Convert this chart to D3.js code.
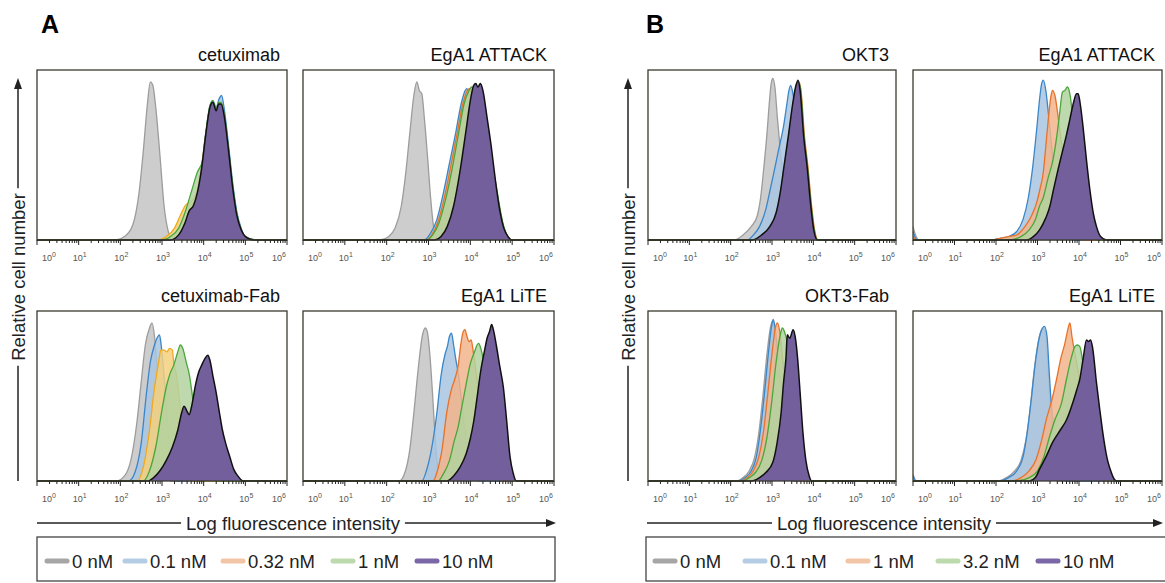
<!DOCTYPE html>
<html><head><meta charset="utf-8">
<script src="https://cdn.jsdelivr.net/npm/d3@7"></script>
<style>body{margin:0;background:#fff}svg{display:block}</style>
</head><body>
<svg id="c" width="1165" height="583"></svg>
<script>
// ---------- DATA (x = log10 fluorescence, y = % of max cell number) ----------
const decades = [0, 1, 2, 3, 4, 5, 6];
const panelTitles = ["cetuximab", "EgA1 ATTACK", "cetuximab-Fab", "EgA1 LiTE", "OKT3", "EgA1 ATTACK", "OKT3-Fab", "EgA1 LiTE"];
const legendA = ["0 nM", "0.1 nM", "0.32 nM", "1 nM", "10 nM"];
const legendB = ["0 nM", "0.1 nM", "1 nM", "3.2 nM", "10 nM"];

// A – cetuximab
const cetux_0   = [[1.9,0],[2.1,2],[2.3,9],[2.45,28],[2.55,52],[2.65,80],[2.72,93],[2.78,91],[2.85,78],[2.95,50],[3.05,20],[3.15,5],[3.25,0]];
const cetux_01  = [[3.2,0],[3.4,3],[3.55,10],[3.65,17],[3.75,21],[3.85,29],[3.95,43],[4.05,63],[4.15,79],[4.22,82],[4.3,78],[4.37,83],[4.43,85],[4.5,76],[4.6,55],[4.7,33],[4.8,16],[4.9,7],[5.0,2],[5.25,0]];
const cetux_032 = [[2.9,0],[3.1,2],[3.3,7],[3.45,15],[3.55,20],[3.65,22],[3.75,24],[3.85,30],[3.95,43],[4.05,62],[4.15,78],[4.22,81],[4.3,76],[4.36,80],[4.42,80],[4.5,72],[4.6,52],[4.7,30],[4.8,14],[4.9,6],[5.0,2],[5.2,0]];
const cetux_1   = [[3.0,0],[3.2,2],[3.4,7],[3.55,16],[3.7,28],[3.85,40],[3.98,47],[4.05,62],[4.15,79],[4.22,82],[4.3,77],[4.36,81],[4.42,81],[4.5,73],[4.6,53],[4.7,31],[4.8,15],[4.9,6],[5.0,2],[5.2,0]];
const cetux_10  = [[3.2,0],[3.4,3],[3.55,10],[3.65,17],[3.75,20],[3.85,28],[3.95,42],[4.05,62],[4.15,78],[4.22,81],[4.3,76],[4.36,80],[4.42,80],[4.5,72],[4.6,52],[4.7,30],[4.8,14],[4.9,6],[5.0,2],[5.2,0]];
// A – EgA1 ATTACK
const attA_0   = [[1.85,0],[2.05,2],[2.2,7],[2.35,20],[2.45,38],[2.55,62],[2.65,85],[2.72,93],[2.78,88],[2.84,86],[2.9,72],[2.98,48],[3.05,25],[3.12,8],[3.2,0]];
const attA_01  = [[2.9,0],[3.05,4],[3.2,12],[3.35,27],[3.5,45],[3.65,63],[3.78,80],[3.88,88],[3.92,89],[3.97,86],[4.05,82],[4.2,74],[4.4,55],[4.6,30],[4.8,7],[5.0,0]];
const attA_032 = [[2.93,0],[3.08,3],[3.23,11],[3.38,25],[3.53,43],[3.68,62],[3.82,80],[3.93,88],[3.98,89],[4.05,85],[4.2,76],[4.4,57],[4.6,32],[4.8,7],[5.0,0]];
const attA_1   = [[2.95,0],[3.1,3],[3.25,10],[3.4,23],[3.55,40],[3.7,60],[3.85,80],[3.97,88],[4.03,90],[4.1,86],[4.2,80],[4.4,60],[4.6,34],[4.8,8],[5.0,0]];
const attA_10  = [[3.15,0],[3.3,2],[3.45,8],[3.6,20],[3.75,40],[3.9,65],[4.0,82],[4.08,91],[4.13,92],[4.18,90],[4.24,92],[4.3,88],[4.4,72],[4.5,55],[4.6,35],[4.7,18],[4.8,7],[4.9,2],[5.0,0]];
// A – cetuximab-Fab
const cfab_0   = [[1.9,0],[2.1,3],[2.25,12],[2.4,35],[2.5,58],[2.6,80],[2.7,90],[2.76,93],[2.82,85],[2.9,60],[3.0,30],[3.1,10],[3.2,0]];
const cfab_01  = [[2.2,0],[2.35,5],[2.5,22],[2.62,50],[2.72,70],[2.82,80],[2.9,85],[2.94,86],[2.98,80],[3.05,62],[3.15,30],[3.25,10],[3.35,0]];
const cfab_032 = [[2.4,0],[2.55,8],[2.7,30],[2.82,55],[2.92,70],[2.97,77],[3.05,77],[3.12,76],[3.18,78],[3.25,77],[3.28,70],[3.35,62],[3.45,40],[3.55,15],[3.65,0]];
const cfab_1   = [[2.55,0],[2.7,6],[2.85,20],[3.0,42],[3.1,55],[3.19,63],[3.28,68],[3.38,76],[3.44,80],[3.5,78],[3.58,70],[3.66,62],[3.73,50],[3.8,38],[3.9,22],[4.0,10],[4.2,3],[4.4,0]];
const cfab_10  = [[2.66,0],[2.8,2],[2.95,6],[3.1,12],[3.25,20],[3.38,30],[3.47,40],[3.53,44],[3.6,41],[3.65,39],[3.72,45],[3.8,56],[3.88,64],[3.95,68],[4.03,72],[4.1,74],[4.15,71],[4.22,62],[4.3,52],[4.38,40],[4.45,30],[4.53,22],[4.63,14],[4.72,7],[4.82,3],[4.95,0]];
// A – EgA1 LiTE
const liteA_0   = [[2.3,0],[2.45,6],[2.55,18],[2.65,40],[2.75,65],[2.85,85],[2.92,90],[2.97,88],[3.03,75],[3.1,50],[3.16,25],[3.22,8],[3.3,0]];
const liteA_01  = [[2.84,0],[2.95,6],[3.05,16],[3.2,40],[3.3,62],[3.4,75],[3.45,79],[3.5,85],[3.55,87],[3.6,80],[3.65,72],[3.72,62],[3.8,45],[3.9,25],[4.0,10],[4.1,2],[4.2,0]];
const liteA_032 = [[3.11,0],[3.2,5],[3.32,18],[3.44,41],[3.55,54],[3.63,60],[3.71,68],[3.77,80],[3.82,87],[3.87,89],[3.92,85],[3.97,82],[4.02,83],[4.07,76],[4.15,62],[4.25,40],[4.4,15],[4.6,3],[4.8,0]];
const liteA_1   = [[3.23,0],[3.35,4],[3.5,12],[3.62,24],[3.71,32],[3.8,44],[3.9,57],[4.0,69],[4.1,76],[4.16,80],[4.2,81],[4.25,78],[4.32,70],[4.42,50],[4.55,28],[4.7,10],[4.85,2],[5.0,0]];
const liteA_10  = [[3.44,0],[3.6,3],[3.75,8],[3.9,16],[4.0,25],[4.08,35],[4.15,47],[4.25,65],[4.35,78],[4.4,84],[4.46,88],[4.51,92],[4.56,88],[4.62,80],[4.7,68],[4.79,55],[4.87,35],[4.95,14],[5.02,5],[5.1,0]];
// B – OKT3
const okt_0   = [[2.1,0],[2.3,3],[2.5,8],[2.64,14],[2.72,24],[2.8,42],[2.88,63],[2.94,82],[2.98,92],[3.02,95],[3.07,90],[3.13,72],[3.2,53],[3.3,30],[3.4,12],[3.5,3],[3.6,0]];
const okt_01  = [[2.4,0],[2.55,3],[2.7,8],[2.85,18],[2.96,30],[3.04,39],[3.15,52],[3.28,67],[3.36,80],[3.41,88],[3.45,91],[3.5,87],[3.57,75],[3.65,58],[3.75,35],[3.85,15],[3.95,4],[4.05,0]];
const okt_1   = [[2.54,0],[2.77,3],[2.97,8],[3.12,16],[3.22,28],[3.32,45],[3.42,62],[3.52,80],[3.6,91],[3.65,93],[3.7,88],[3.79,60],[3.87,43],[3.95,22],[4.03,6],[4.12,0]];
const okt_32  = [[2.53,0],[2.76,3],[2.96,8],[3.11,16],[3.21,28],[3.31,45],[3.41,62],[3.51,80],[3.59,91],[3.64,93],[3.69,89],[3.78,60],[3.86,43],[3.94,22],[4.02,6],[4.11,0]];
const okt_10  = [[2.52,0],[2.75,3],[2.95,8],[3.1,16],[3.2,28],[3.3,45],[3.4,62],[3.5,80],[3.58,91],[3.63,94],[3.68,88],[3.77,60],[3.85,43],[3.93,22],[4.01,6],[4.1,0]];
// B – EgA1 ATTACK
const attB_0   = [[0,8],[0.06,3],[0.15,0],[2.0,0]];
const attB_01  = [[0,5],[0.1,0],[1.9,0],[2.1,1],[2.3,2],[2.5,5],[2.65,12],[2.78,25],[2.88,42],[2.98,65],[3.06,85],[3.1,92],[3.14,94],[3.2,88],[3.26,75],[3.32,60],[3.4,40],[3.5,20],[3.6,8],[3.75,2],[3.9,0]];
const attB_1   = [[0,2],[0.1,0],[1.9,0],[2.1,1],[2.3,2],[2.5,3],[2.7,8],[2.85,14],[2.98,22],[3.06,30],[3.14,40],[3.2,55],[3.26,71],[3.32,84],[3.36,88],[3.42,85],[3.5,72],[3.6,52],[3.7,32],[3.82,14],[3.95,4],[4.1,0]];
const attB_32  = [[2.3,0],[2.6,2],[2.8,6],[2.95,12],[3.05,20],[3.14,25],[3.25,36],[3.38,48],[3.47,62],[3.54,76],[3.6,87],[3.66,88],[3.72,90],[3.78,86],[3.86,70],[3.95,50],[4.05,28],[4.15,12],[4.3,3],[4.45,0]];
const attB_10  = [[2.74,0],[2.9,2],[3.05,6],[3.2,13],[3.3,20],[3.38,29],[3.5,42],[3.6,52],[3.7,62],[3.78,71],[3.86,80],[3.94,86],[3.98,86],[4.03,80],[4.1,66],[4.18,47],[4.26,30],[4.35,15],[4.42,8],[4.52,2],[4.66,0]];
// B – OKT3-Fab
const ofab_0   = [[2.15,0],[2.3,2],[2.45,6],[2.58,14],[2.68,28],[2.78,50],[2.88,75],[2.96,90],[3.01,94],[3.05,90],[3.12,75],[3.2,55],[3.3,30],[3.4,10],[3.5,0]];
const ofab_01  = [[2.18,0],[2.35,2],[2.5,6],[2.62,14],[2.72,30],[2.82,52],[2.92,77],[2.99,91],[3.03,95],[3.07,91],[3.14,75],[3.22,55],[3.32,30],[3.42,10],[3.52,0]];
const ofab_1   = [[2.25,0],[2.4,2],[2.55,6],[2.68,14],[2.8,30],[2.9,52],[3.0,75],[3.08,90],[3.13,93],[3.18,89],[3.25,74],[3.33,54],[3.43,28],[3.53,9],[3.63,0]];
const ofab_32  = [[2.3,0],[2.45,2],[2.6,5],[2.75,12],[2.88,26],[3.0,48],[3.1,70],[3.2,86],[3.25,90],[3.3,88],[3.38,80],[3.45,65],[3.55,40],[3.65,18],[3.75,4],[3.85,0]];
const ofab_10  = [[2.5,0],[2.7,2],[2.85,5],[3.02,11],[3.12,22],[3.22,40],[3.28,58],[3.34,73],[3.37,86],[3.43,84],[3.51,89],[3.56,85],[3.62,72],[3.68,52],[3.75,28],[3.82,12],[3.9,3],[3.96,0]];
// B – EgA1 LiTE
const liteB_0   = [[0,4],[0.08,0],[2.05,0],[2.25,2],[2.45,6],[2.6,12],[2.72,24],[2.82,42],[2.92,65],[3.02,82],[3.1,89],[3.15,90],[3.2,85],[3.27,60],[3.33,35],[3.42,12],[3.5,0]];
const liteB_01  = [[0,3],[0.08,0],[2.08,0],[2.3,2],[2.5,6],[2.65,14],[2.75,28],[2.85,48],[2.95,70],[3.05,85],[3.12,90],[3.17,91],[3.23,85],[3.28,65],[3.33,46],[3.4,30],[3.5,12],[3.6,3],[3.7,0]];
const liteB_1   = [[2.4,0],[2.6,2],[2.8,6],[2.97,13],[3.1,24],[3.21,36],[3.35,48],[3.46,60],[3.56,72],[3.66,81],[3.73,89],[3.78,93],[3.83,85],[3.9,75],[4.0,62],[4.1,45],[4.2,28],[4.3,12],[4.45,3],[4.6,0]];
const liteB_32  = [[2.5,0],[2.8,2],[3.0,6],[3.15,14],[3.29,26],[3.42,36],[3.58,46],[3.7,60],[3.82,73],[3.9,79],[3.96,80],[4.02,79],[4.08,72],[4.15,60],[4.25,40],[4.35,22],[4.45,9],[4.58,2],[4.7,0]];
const liteB_10  = [[2.81,0],[2.95,2],[3.05,7],[3.2,14],[3.37,23],[3.55,30],[3.7,36],[3.85,46],[3.95,54],[4.02,60],[4.1,72],[4.18,83],[4.23,82],[4.28,83],[4.33,78],[4.42,58],[4.5,42],[4.6,24],[4.68,13],[4.75,7],[4.85,1],[4.9,0]];

// ---------- STYLES ----------
const fills   = {gray:"#c4c4c4", blue:"#a9c5e1", orange:"#f1b48b", yellow:"#f4d07e", green:"#b3d29f", purple:"#745f9d"};
const strokes = {gray:"#9c9c9c", blue:"#3a86c8", orange:"#e8722a", yellow:"#efaa1c", green:"#4aa63a", purple:"#111111"};
const legendColors = ["#a6a6a6", "#b5cde4", "#f2c5a6", "#bddaaf", "#7b66a6"];

const cols = [[37, 287], [303, 554], [648, 896], [913, 1162]];
const rows = [[70, 240], [311, 481]];

const panels = [
  {t:0, c:0, r:0, s:[[cetux_0,"gray"],[cetux_01,"blue"],[cetux_032,"yellow"],[cetux_1,"green"],[cetux_10,"purple"]]},
  {t:1, c:1, r:0, s:[[attA_0,"gray"],[attA_01,"blue"],[attA_032,"orange"],[attA_1,"green"],[attA_10,"purple"]]},
  {t:2, c:0, r:1, s:[[cfab_0,"gray"],[cfab_01,"blue"],[cfab_032,"yellow"],[cfab_1,"green"],[cfab_10,"purple"]]},
  {t:3, c:1, r:1, s:[[liteA_0,"gray"],[liteA_01,"blue"],[liteA_032,"orange"],[liteA_1,"green"],[liteA_10,"purple"]]},
  {t:4, c:2, r:0, s:[[okt_0,"gray"],[okt_01,"blue"],[okt_1,"orange"],[okt_32,"green"],[okt_10,"purple"]]},
  {t:5, c:3, r:0, s:[[attB_0,"gray"],[attB_01,"blue"],[attB_1,"orange"],[attB_32,"green"],[attB_10,"purple"]]},
  {t:6, c:2, r:1, s:[[ofab_0,"gray"],[ofab_01,"blue"],[ofab_1,"orange"],[ofab_32,"green"],[ofab_10,"purple"]]},
  {t:7, c:3, r:1, s:[[liteB_0,"gray"],[liteB_01,"blue"],[liteB_1,"orange"],[liteB_32,"green"],[liteB_10,"purple"]]}
];

const svg = d3.select("#c");
const FONT = "'Liberation Sans', Arial, sans-serif";
const defs = svg.append("defs");

panels.forEach((p, i) => {
  const [x0, x1] = cols[p.c], [y0, y1] = rows[p.r];
  const x = d3.scaleLog().domain([1, 1e6]).range([x0, x1]);
  const y = d3.scaleLinear().domain([0, 100]).range([y1, y0]);
  const g = svg.append("g");
  defs.append("clipPath").attr("id", "clip" + i).append("rect")
    .attr("x", x0).attr("y", y0).attr("width", x1 - x0).attr("height", y1 - y0 + 1);
  const gc = g.append("g").attr("clip-path", `url(#clip${i})`);
  const area = d3.area().x(d => x(Math.pow(10, d[0]))).y0(y(0)).y1(d => y(d[1])).curve(d3.curveMonotoneX);
  const line = d3.line().x(d => x(Math.pow(10, d[0]))).y(d => y(d[1])).curve(d3.curveMonotoneX);
  p.s.forEach(([pts, col]) => {
    let full = pts.slice();
    if (full[0][0] > 0) full.unshift([0, 0]);
    if (full[full.length - 1][0] < 6) full.push([6, 0]);
    gc.append("path").attr("d", area(full)).attr("fill", fills[col]).attr("fill-opacity", col === "purple" ? 1 : 0.85);
    gc.append("path").attr("d", line(full)).attr("fill", "none").attr("stroke", strokes[col])
      .attr("stroke-width", col === "purple" ? 1.5 : 1.3).attr("stroke-linejoin", "round");
  });
  // frame
  g.append("rect").attr("x", x0).attr("y", y0).attr("width", x1 - x0).attr("height", y1 - y0)
    .attr("fill", "none").attr("stroke", "#3b3b30").attr("stroke-width", 1.3);
  // ticks
  const ticks = x.ticks();
  const isMajor = d => Math.abs(Math.log10(d) - Math.round(Math.log10(d))) < 1e-9;
  g.selectAll("line.tk").data(ticks).join("line")
    .attr("x1", d => x(d)).attr("x2", d => x(d))
    .attr("y1", y1).attr("y2", d => isMajor(d) ? y1 + 5 : y1 + 3)
    .attr("stroke", "#222").attr("stroke-width", 1);
  // tick labels
  decades.forEach((e, k) => {
    const dx = k === 0 ? 12 : (k === decades.length - 1 ? -8 : 1);
    const t = g.append("text").attr("x", x(Math.pow(10, e)) + dx).attr("y", y1 + 21)
      .attr("text-anchor", "middle").attr("font-family", FONT).attr("fill", "#555").attr("font-size", 9);
    t.append("tspan").text("10");
    t.append("tspan").attr("dy", -4.5).attr("font-size", 7).text(e);
  });
  // title
  g.append("text").attr("x", x1 - 7).attr("y", y0 - 9).attr("text-anchor", "end")
    .attr("font-family", FONT).attr("font-size", 18).attr("fill", "#111").text(panelTitles[p.t]);
});

// Panel letters
[["A", 41], ["B", 646]].forEach(([l, xx]) => {
  svg.append("text").attr("x", xx).attr("y", 33).attr("font-family", FONT).attr("font-weight", "bold")
    .attr("font-size", 25).attr("fill", "#000").text(l);
});

// Y axis labels with arrows
[18, 628].forEach(xx => {
  const cy = 277;
  const t = svg.append("text").attr("transform", `translate(${xx + 6.5},${cy}) rotate(-90)`)
    .attr("text-anchor", "middle").attr("font-family", FONT).attr("font-size", 18.5).attr("fill", "#222")
    .text("Relative cell number");
  const w = t.node().getComputedTextLength();
  svg.append("line").attr("x1", xx).attr("x2", xx).attr("y1", 481).attr("y2", cy + w / 2 + 5).attr("stroke", "#222").attr("stroke-width", 1.5);
  svg.append("line").attr("x1", xx).attr("x2", xx).attr("y1", cy - w / 2 - 5).attr("y2", 88).attr("stroke", "#222").attr("stroke-width", 1.5);
  svg.append("path").attr("d", `M${xx - 4},89 L${xx + 4},89 L${xx},78 Z`).attr("fill", "#222");
});

// X axis labels with arrows
[[37, 556, 293], [647, 1163, 884]].forEach(([a, b, cx]) => {
  const yy = 523;
  const t = svg.append("text").attr("x", cx).attr("y", yy + 6.5).attr("text-anchor", "middle")
    .attr("font-family", FONT).attr("font-size", 18.5).attr("fill", "#222").text("Log fluorescence intensity");
  const w = t.node().getComputedTextLength();
  svg.append("line").attr("x1", a).attr("x2", cx - w / 2 - 5).attr("y1", yy).attr("y2", yy).attr("stroke", "#222").attr("stroke-width", 1.5);
  svg.append("line").attr("x1", cx + w / 2 + 5).attr("x2", b - 9).attr("y1", yy).attr("y2", yy).attr("stroke", "#222").attr("stroke-width", 1.5);
  svg.append("path").attr("d", `M${b - 10},${yy - 4} L${b - 10},${yy + 4} L${b},${yy} Z`).attr("fill", "#222");
});

// Legends
[[legendA, 37, 555, [45, 123, 221, 331, 415]], [legendB, 646, 1175, [653, 743, 846, 936, 1036]]].forEach(([labels, bx0, bx1, xs]) => {
  svg.append("rect").attr("x", bx0).attr("y", 537).attr("width", bx1 - bx0).attr("height", 44)
    .attr("fill", "none").attr("stroke", "#444").attr("stroke-width", 1.3);
  labels.forEach((lab, k) => {
    const cur = xs[k];
    svg.append("line").attr("x1", cur + 2).attr("x2", cur + 22).attr("y1", 561).attr("y2", 561)
      .attr("stroke", legendColors[k]).attr("stroke-width", 5).attr("stroke-linecap", "round");
    svg.append("text").attr("x", cur + 27).attr("y", 568).attr("font-family", FONT)
      .attr("font-size", 18.5).attr("fill", "#222").text(lab);
  });
});
</script>
</body></html>
